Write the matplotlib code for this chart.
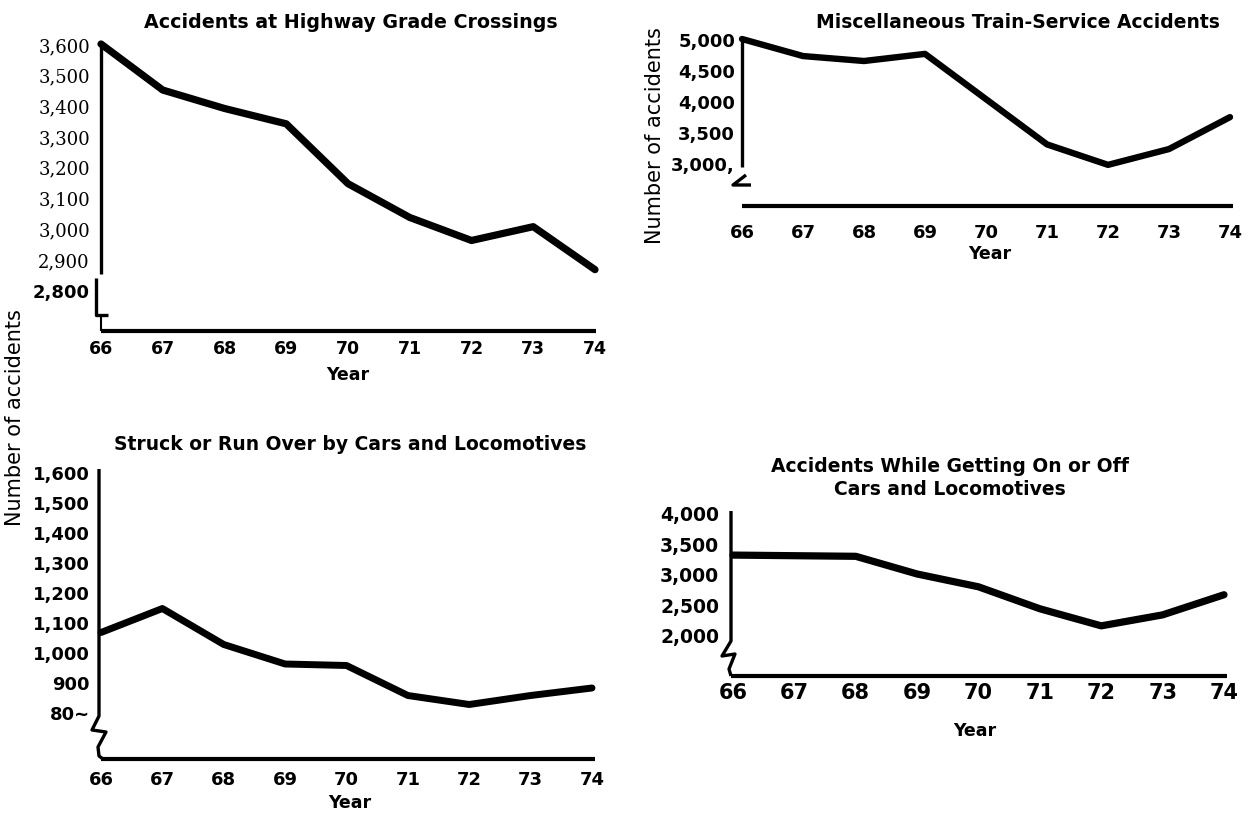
import matplotlib
matplotlib.use("Agg")
import matplotlib.pyplot as plt
from matplotlib.lines import Line2D

# data (year 19xx -> number of accidents)
years = [66, 67, 68, 69, 70, 71, 72, 73, 74]
highway = [3600, 3450, 3390, 3340, 3145, 3035, 2960, 3005, 2865]
misc = [5000, 4725, 4645, 4760, 4030, 3300, 2970, 3225, 3740]
struck = [1065, 1145, 1025, 960, 955, 855, 825, 855, 880]
onoff = [3310, 3300, 3290, 3000, 2790, 2430, 2150, 2330, 2660]

highway_ticks = [3600, 3500, 3400, 3300, 3200, 3100, 3000, 2900, 2800]
highway_labels = ['3,600', '3,500', '3,400', '3,300', '3,200', '3,100', '3,000', '2,900', '2,800']
misc_ticks = [5000, 4500, 4000, 3500, 3000]
misc_labels = ['5,000', '4,500', '4,000', '3,500', '3,000,']
struck_ticks = [1600, 1500, 1400, 1300, 1200, 1100, 1000, 900, 800]
struck_labels = ['1,600', '1,500', '1,400', '1,300', '1,200', '1,100', '1,000', '900', '80~']
onoff_ticks = [4000, 3500, 3000, 2500, 2000]
onoff_labels = ['4,000', '3,500', '3,000', '2,500', '2,000']

titles = ['Accidents at Highway Grade Crossings',
          'Miscellaneous Train-Service Accidents',
          'Struck or Run Over by Cars and Locomotives',
          'Accidents While Getting On or Off\nCars and Locomotives']

W, H = 1250, 820
fig = plt.figure(figsize=(12.5, 8.2), dpi=100)
BOLD = dict(family='DejaVu Sans', fontweight='bold')


def fx(x):
    return x / W


def fy(y):
    return 1 - y / H


def pline(pts, lw=2.4):
    fig.add_artist(Line2D([fx(p[0]) for p in pts], [fy(p[1]) for p in pts],
                          transform=fig.transFigure, color='black', lw=lw,
                          solid_joinstyle='round', solid_capstyle='butt'))


def panel(x0, x1, ytop, ybase, vtop, px_per_unit):
    ax = fig.add_axes([fx(x0), fy(ybase), (x1 - x0) / W, (ybase - ytop) / H])
    ax.set_xlim(66, 74)
    ax.set_ylim(vtop - (ybase - ytop) / px_per_unit, vtop)
    for s in ax.spines.values():
        s.set_visible(False)
    ax.patch.set_alpha(0)
    ax.tick_params(length=0)
    return ax


# ---- top left
ax1 = panel(101, 595, 45, 332, 3600, 0.307)
ax1.plot(years, highway, color='black', lw=5.2, clip_on=False, solid_capstyle='round')
ax1.set_xticks(years)
ax1.set_xticklabels([str(y) for y in years], fontsize=12.5, **BOLD)
ax1.set_yticks(highway_ticks)
ax1.set_yticklabels(highway_labels, family='DejaVu Serif', fontsize=13)
ax1.get_yticklabels()[-1].set_fontweight('bold')
ax1.get_yticklabels()[-1].set_family('DejaVu Sans')
ax1.tick_params(axis='x', pad=6)
ax1.tick_params(axis='y', pad=8)
pline([(101, 44), (101, 275)])
pline([(96, 279), (96, 316), (108, 316)])
pline([(101, 318), (101, 332)], lw=1.5)
pline([(101, 332), (596, 332)], lw=3)
fig.text(fx(351), fy(22), titles[0], ha='center', va='center', fontsize=13.7, **BOLD)
fig.text(fx(348), fy(375), 'Year', ha='center', va='center', fontsize=12.5, **BOLD)

# ---- top right
ax2 = panel(742, 1230, 40, 207, 5000, 0.062)
ax2.plot(years, misc, color='black', lw=4.6, clip_on=False, solid_capstyle='round')
ax2.set_xticks(years)
ax2.set_xticklabels([str(y) for y in years], fontsize=13, **BOLD)
ax2.set_yticks(misc_ticks)
ax2.set_yticklabels(misc_labels, fontsize=13, **BOLD)
ax2.tick_params(axis='x', pad=12)
ax2.tick_params(axis='y', pad=5)
pline([(742, 38), (742, 168)])
pline([(746, 176), (733, 186), (751, 186)])
pline([(742, 207), (1233, 207)], lw=3)
fig.text(fx(1018), fy(22), titles[1], ha='center', va='center', fontsize=13.5, **BOLD)
fig.text(fx(990), fy(254), 'Year', ha='center', va='center', fontsize=12.5, **BOLD)
fig.text(fx(655), fy(136), 'Number of accidents', rotation=90, ha='center', va='center',
         fontsize=15, family='DejaVu Sans')

# ---- bottom left
ax3 = panel(101, 592, 473, 760, 1600, 0.30)
ax3.plot(years, struck, color='black', lw=5, clip_on=False, solid_capstyle='round')
ax3.set_xticks(years)
ax3.set_xticklabels([str(y) for y in years], fontsize=13, **BOLD)
ax3.set_yticks(struck_ticks)
ax3.set_yticklabels(struck_labels, fontsize=13, **BOLD)
ax3.tick_params(axis='x', pad=8)
ax3.tick_params(axis='y', pad=8)
pline([(99, 470), (99, 717), (92, 731), (106, 733), (98, 748), (99, 757), (103, 760)])
pline([(101, 760), (595, 760)], lw=3)
fig.text(fx(350), fy(445), titles[2], ha='center', va='center', fontsize=13.5, **BOLD)
fig.text(fx(350), fy(803), 'Year', ha='center', va='center', fontsize=12.5, **BOLD)
fig.text(fx(15), fy(418), 'Number of accidents', rotation=90, ha='center', va='center',
         fontsize=15, family='DejaVu Sans')

# ---- bottom right
ax4 = panel(733, 1224, 514, 677, 4000, 0.061)
ax4.plot(years, onoff, color='black', lw=5.2, clip_on=False, solid_capstyle='round')
ax4.set_xticks(years)
ax4.set_xticklabels([str(y) for y in years], fontsize=15, **BOLD)
ax4.set_yticks(onoff_ticks)
ax4.set_yticklabels(onoff_labels, fontsize=13.5, **BOLD)
ax4.tick_params(axis='x', pad=4)
ax4.tick_params(axis='y', pad=10)
pline([(731, 512), (731, 642), (722, 657), (735, 655), (729, 670), (731, 677)])
pline([(731, 677), (1227, 677)], lw=3)
fig.text(fx(950), fy(478), titles[3], ha='center', va='center', fontsize=13.5,
         linespacing=1.25, **BOLD)
fig.text(fx(975), fy(731), 'Year', ha='center', va='center', fontsize=12.5, **BOLD)

fig.savefig('out.png', dpi=100, facecolor='white')
